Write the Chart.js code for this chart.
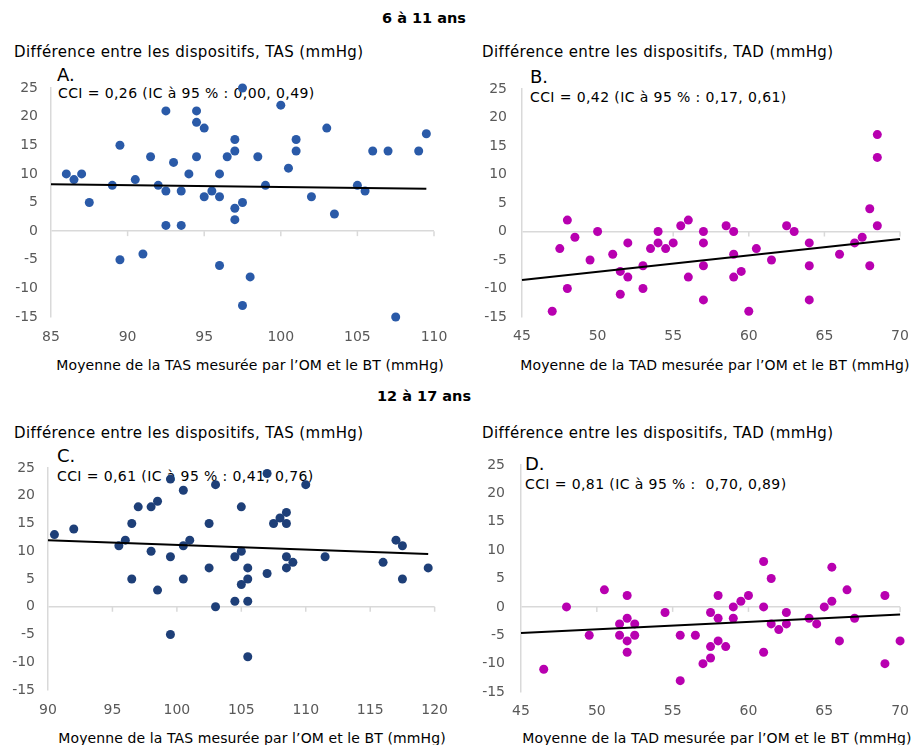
<!DOCTYPE html>
<html><head><meta charset="utf-8">
<script src="https://cdn.jsdelivr.net/npm/chart.js@4.4.1/dist/chart.umd.min.js"></script>
<style>
body{margin:0;background:#fff;width:920px;height:745px;overflow:hidden;font-family:"DejaVu Sans",Verdana,sans-serif;color:#000}
.t{position:absolute;white-space:pre;line-height:20px}
canvas{position:absolute}
.b{font-weight:bold;font-size:14.5px}
.yt{font-size:15px;letter-spacing:0.4px}
.xt{font-size:14px;text-align:center;width:460px;letter-spacing:0.1px}
.l{font-size:18px}
.c{font-size:14px;letter-spacing:0.4px}
</style></head><body>
<div class="t b" style="left:0;width:848px;text-align:center;top:8px">6 à 11 ans</div>
<div class="t b" style="left:0;width:848px;text-align:center;top:386px">12 à 17 ans</div>

<div class="t yt" style="left:14px;top:42px">Différence entre les dispositifs, TAS (mmHg)</div>
<div class="t l" style="left:57px;top:65px">A.</div>
<div class="t c" style="left:58px;top:83px">CCI = 0,26 (IC à 95 % : 0,00, 0,49)</div>

<div class="t yt" style="left:482px;top:42px">Différence entre les dispositifs, TAD (mmHg)</div>
<div class="t l" style="left:530px;top:67px">B.</div>
<div class="t c" style="left:530px;top:87px">CCI = 0,42 (IC à 95 % : 0,17, 0,61)</div>

<div class="t xt" style="left:20px;top:355px">Moyenne de la TAS mesurée par l’OM et le BT (mmHg)</div>
<div class="t xt" style="left:485px;top:355px">Moyenne de la TAD mesurée par l’OM et le BT (mmHg)</div>

<div class="t yt" style="left:14px;top:423px">Différence entre les dispositifs, TAS (mmHg)</div>
<div class="t l" style="left:57px;top:446px">C.</div>
<div class="t c" style="left:57px;top:466px">CCI = 0,61 (IC à 95 % : 0,41, 0,76)</div>

<div class="t yt" style="left:482px;top:423px">Différence entre les dispositifs, TAD (mmHg)</div>
<div class="t l" style="left:525px;top:454px">D.</div>
<div class="t c" style="left:525px;top:474px">CCI = 0,81 (IC à 95 % :  0,70, 0,89)</div>

<div class="t xt" style="left:22px;top:728px">Moyenne de la TAS mesurée par l’OM et le BT (mmHg)</div>
<div class="t xt" style="left:487px;top:728px">Moyenne de la TAD mesurée par l’OM et le BT (mmHg)</div>

<canvas id="cA"></canvas>
<canvas id="cB"></canvas>
<canvas id="cC"></canvas>
<canvas id="cD"></canvas>
<script>
// ---- Data ----
// A: 6-11 ans, TAS
const tasChildX = [86,86.5,87,87.5,89,89.5,89.5,90.5,91,91.5,92,92.5,92.5,92.5,93,93.5,93.5,94,94.5,94.5,94.5,95,95,95.5,96,96,96,96.5,97,97,97,97,97.5,97.5,97.5,98,98.5,99,100,100.5,101,101,102,103,103.5,105,105.5,106,107,107.5,109,109.5];
const tasChildY = [10,9,10,5,8,15,-5,9,-4,13,8,21,7,1,12,7,1,10,21,19,13,18,6,7,10,6,-6,13,16,14,4,2,25,5,-13,-8,13,8,22,11,16,14,6,18,3,8,7,14,14,-15,14,17];
const tasChildTrendX = [85,109.5];
const tasChildTrendY = [8.2,7.4];

// B: 6-11 ans, TAD
const tadChildX = [47,47.5,48,48,48.5,49.5,50,51,51.5,51.5,52,52,53,53,53.5,54,54,54.5,55,55.5,56,56,57,57,57,57,58.5,59,59,59,59.5,60,60.5,61.5,62.5,63,64,64,64,66,67,67.5,68,68,68.5,68.5,68.5];
const tadChildY = [-14,-3,2,-10,-1,-5,0,-4,-7,-11,-2,-8,-6,-10,-3,0,-2,-3,-2,1,2,-8,0,-2,-6,-12,1,0,-4,-8,-7,-14,-3,-5,1,0,-2,-6,-12,-4,-2,-1,4,-6,17,13,1];
const tadChildTrendX = [45,70];
const tadChildTrendY = [-8.5,-1.3];

// C: 12-17 ans, TAS
const tasTeenX = [90.5,92,95.5,96,96.5,96.5,97,98,98,98.5,98.5,99.5,99.5,99.5,100.5,100.5,100.5,101,102.5,102.5,103,103,104.5,104.5,105,105,105,105.5,105.5,105.5,105.5,107,107,107.5,108,108.5,108.5,108.5,108.5,109,110,111.5,116,117,117.5,117.5,119.5];
const tasTeenY = [13,14,11,12,15,5,18,18,10,19,3,23,9,-5,21,11,5,12,15,7,22,0,9,1,18,10,4,7,5,1,-9,24,6,15,16,17,15,9,7,8,22,9,8,12,11,5,7];
const tasTeenTrendX = [90,119.5];
const tasTeenTrendY = [12,9.5];

// D: 12-17 ans, TAD
const tadTeenX = [46.5,48,49.5,50.5,51.5,51.5,52,52,52,52,52.5,52.5,54.5,55.5,55.5,56.5,57,57.5,57.5,57.5,58,58,58,58.5,59,59,59.5,60,61,61,61,61.5,61.5,62,62.5,62.5,64,64.5,65,65.5,65.5,66,66.5,67,69,69,70];
const tadTeenY = [-11,0,-5,3,-3,-5,2,-2,-6,-8,-3,-5,-1,-5,-13,-5,-10,-1,-7,-9,2,-2,-6,-7,0,-2,1,2,8,0,-8,5,-3,-4,-1,-3,-2,-3,0,7,1,-6,3,-2,2,-10,-6];
const tadTeenTrendX = [45,70];
const tadTeenTrendY = [-4.6,-1.35];

const yTicksMin = -15, yTicksMax = 25, yStep = 5;

// ---- Rendering ----
const GRAY = '#d9d9d9';
const zeroTicks = {
  id: 'zeroTicks',
  beforeDatasetsDraw(chart) {
    const {ctx, scales: {x, y}} = chart;
    const y0 = y.getPixelForValue(0);
    ctx.save();
    ctx.strokeStyle = GRAY; ctx.lineWidth = 1.5;
    x.ticks.forEach(t => {
      if (t.value === x.min) return;
      const px = x.getPixelForValue(t.value);
      ctx.beginPath(); ctx.moveTo(px, y0); ctx.lineTo(px, y0 + 5); ctx.stroke();
    });
    ctx.restore();
  }
};

function panel(id, box, area, xs, ys, tx, ty, color, xMin, xMax, xPad, yPad) {
  const cv = document.getElementById(id);
  cv.width = box.w; cv.height = box.h;
  cv.style.left = box.left + 'px'; cv.style.top = box.top + 'px';
  cv.style.width = box.w + 'px'; cv.style.height = box.h + 'px';
  const font = {family: '"DejaVu Sans", Verdana, sans-serif', size: 14};
  new Chart(cv, {
    type: 'scatter',
    data: {datasets: [
      {type: 'line', data: tx.map((x, i) => ({x, y: ty[i]})), borderColor: '#000', borderWidth: 2,
       pointRadius: 0, fill: false, order: 0, clip: false},
      {data: xs.map((x, i) => ({x, y: ys[i]})), backgroundColor: color, borderColor: color,
       pointRadius: 4.5, pointHoverRadius: 4.5, borderWidth: 0, order: 1, clip: false}
    ]},
    options: {
      responsive: false, animation: false, events: [],
      layout: {autoPadding: false, padding: {left: 0, top: area.T - box.top, right: box.left + box.w - area.R, bottom: 0}},
      plugins: {legend: {display: false}, tooltip: {enabled: false}},
      scales: {
        x: {type: 'linear', min: xMin, max: xMax,
            ticks: {stepSize: 5, color: '#595959', font, padding: xPad, maxRotation: 0},
            grid: {display: false, drawTicks: false}, border: {display: false},
            afterFit(s) { s.height = box.top + box.h - area.B; }},
        y: {type: 'linear', min: yTicksMin, max: yTicksMax,
            ticks: {stepSize: yStep, color: '#595959', font, padding: yPad},
            grid: {color: c => (c.tick && c.tick.value === 0) ? GRAY : 'rgba(0,0,0,0)', lineWidth: 1.5, drawTicks: false},
            border: {display: true, color: GRAY, width: 1.5},
            afterFit(s) { s.width = area.L - box.left; }}
      }
    },
    plugins: [zeroTicks]
  });
}

panel('cA', {left: 0, top: 60, w: 460, h: 330}, {L: 51, T: 88, R: 434, B: 317},
      tasChildX, tasChildY, tasChildTrendX, tasChildTrendY, '#2a5aa8', 85, 110, 12, 13);
panel('cB', {left: 460, top: 60, w: 460, h: 330}, {L: 522, T: 89, R: 900, B: 317},
      tadChildX, tadChildY, tadChildTrendX, tadChildTrendY, '#b800b0', 45, 70, 11, 15);
panel('cC', {left: 0, top: 440, w: 460, h: 305}, {L: 48, T: 468, R: 438, B: 690},
      tasTeenX, tasTeenY, tasTeenTrendX, tasTeenTrendY, '#1e3f78', 90, 120, 12, 13);
panel('cD', {left: 460, top: 440, w: 460, h: 305}, {L: 521, T: 465, R: 902, B: 692},
      tadTeenX, tadTeenY, tadTeenTrendX, tadTeenTrendY, '#b800b0', 45, 70, 11, 16);
</script>
</body></html>
